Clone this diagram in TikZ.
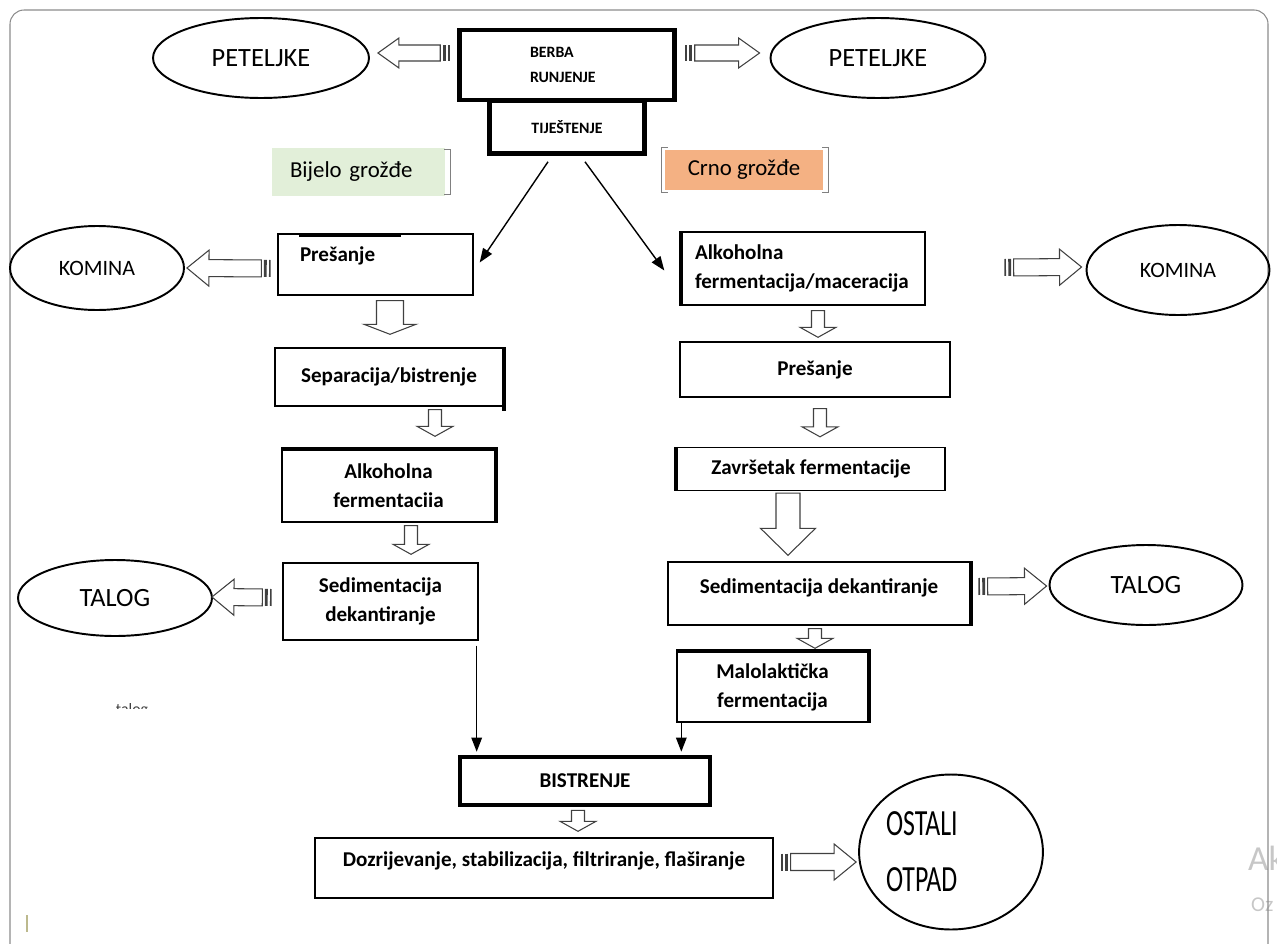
\documentclass[tikz,border=0pt]{standalone}
\usepackage{fontspec}
\setmainfont{Carlito}
\usetikzlibrary{calc,shapes.geometric,arrows.meta}
\def\hollowarrow[#1](#2)(#3)(#4:#5:#6){%
	\coordinate (arrA) at (#2);
	\coordinate (arrB) at (#3);
	\coordinate (arrH) at ($(arrB)!#6!(arrA)$);
	\draw[#1] ($(arrA)!#4!90:(arrB)$) -- ($(arrH)!#4!90:(arrB)$) -- ($(arrH)!#5!90:(arrB)$) -- (arrB)
		-- ($(arrH)!#5!-90:(arrB)$) -- ($(arrH)!#4!-90:(arrB)$) -- ($(arrA)!#4!-90:(arrB)$) -- cycle;}
\def\stripedarrow(#1)(#2)(#3:#4:#5){%
	\coordinate (strA) at (#1);
	\coordinate (strB) at (#2);
	\coordinate (strI) at ($(strA)!0.03cm!(strB)$);
	\coordinate (strII) at ($(strA)!0.12cm!(strB)$);
	\draw[stripe] ($(strI)!#3!90:(strB)$) -- ($(strI)!#3!-90:(strB)$);
	\draw[stripe, line width=1.6pt] ($(strII)!#3!90:(strB)$) -- ($(strII)!#3!-90:(strB)$);
	\hollowarrow[hollow]({$(strA)!0.2cm!(strB)$})(strB)(#3:#4:#5)}
\tikzset{
	procbox/.style={draw, rectangle, line width=0.8pt, inner sep=0pt, align=center, font=\bfseries\fontsize{12}{16.5}\selectfont},
	heavybox/.style={procbox, line width=2.6pt},
	waste/.style={draw, ellipse, line width=1.1pt, inner sep=0pt, align=center, font=\fontsize{12.5}{15}\selectfont},
	grape/.style={rectangle, inner sep=0pt, font=\fontsize{13}{15}\selectfont},
	hollow/.style={draw=black!75, line width=0.6pt, fill=white, line join=miter},
	stripe/.style={draw=black!75, line width=0.9pt},
	thinarrow/.style={-{Triangle[length=8pt,width=6pt]}, line width=0.8pt},
	heavyside/.style={line width=2.4pt},
	bracket/.style={draw=black!50, line width=0.8pt}
}
\definecolor{bijelofill}{HTML}{E2EFD9}
\definecolor{crnofill}{HTML}{F4B183}
\begin{document}
\begin{tikzpicture}[x=0.02cm, y=-0.02cm]
			\useasboundingbox (0,0) rectangle (1277,943);
			%%%%% FRAME %%%%%
			\node[text=black!22, font=\fontsize{20}{20}\selectfont, anchor=west] (wmA) at (1242,858) {Ak};
			\node[text=black!22, font=\fontsize{12}{12}\selectfont, anchor=west] (wmB) at (1245,905) {Oz};
			\draw[black!45, line width=0.6pt, rounded corners=8] (10,10) rectangle (1268,990);
			\draw[yellow!45!black!55, line width=1pt] (27,915) -- (27,932);
			
			%%%%% TOP %%%%%
			\node[heavybox, minimum width=3.1cm, minimum height=1.06cm, font=\bfseries\fontsize{9}{14}\selectfont] (tijest) at (567,127) {TIJEŠTENJE};
			\node[heavybox, minimum width=4.3cm, minimum height=1.4cm, text width=1.48cm, align=left, font=\bfseries\fontsize{9}{14}\selectfont] (berba) at (567,65) {BERBA\\RUNJENJE};
			
			\node[waste, minimum width=4.32cm, minimum height=1.6cm, font=\fontsize{15}{18}\selectfont] (petL) at (261,58) {PETELJKE};
			\node[waste, minimum width=4.3cm, minimum height=1.6cm, font=\fontsize{15}{18}\selectfont] (petR) at (878,58) {PETELJKE};
			
			\stripedarrow({$(berba.west)+(-7,-12)$})({$(petL.east)+(8,-5)$})(0.16cm:0.3cm:0.42cm)
			\stripedarrow({$(berba.east)+(8,-12)$})({$(petR.west)+(-10,-5)$})(0.16cm:0.3cm:0.42cm)
			
			\node[grape, fill=bijelofill, minimum width=3.46cm, minimum height=0.96cm, text width=2.74cm, align=left] (bijelo) at (358.5,172) {Bijelo grožđe};
			\draw[bracket] ($(bijelo.north east)+(-1,2)$) -- ++(6,0) |- ($(bijelo.south east)+(-1,-2)$);
			\node[grape, fill=crnofill, minimum width=3.16cm, minimum height=0.8cm] (crno) at (744,170) {Crno grožđe};
			\draw[bracket] ($(crno.north west)+(3,-2)$) -- ++(-6,0) |- ($(crno.south west)+(3,2)$);
			\draw[bracket] ($(crno.north east)+(-1,-2)$) -- ++(6,0) |- ($(crno.south east)+(-1,2)$);
			
			%%%%% LEFT (BIJELO) %%%%%
			\node[procbox, minimum width=3.9cm, minimum height=1.22cm, text width=3.02cm, align=left, text depth=0.4cm] (presL) at (375.5,264.5) {Prešanje};
			\draw[line width=1.3pt] ($(presL.north west)+(22,3)$) -- ++(102,0);
			\node[waste, minimum width=3.48cm, minimum height=1.68cm] (komL) at (97,268) {KOMINA};
			\stripedarrow({$(presL.west)+(-6,4)$})({$(komL.east)+(2,0)$})(0.17cm:0.36cm:0.44cm)
			
			\node[procbox, minimum width=4.56cm, minimum height=1.16cm] (sepL) at (389,377) {Separacija/bistrenje};
			\draw[heavyside] (sepL.north east) -- ($(sepL.south east)+(0,4)$);
			\hollowarrow[hollow]({$(presL.south)+(14.5,5)$})({$(sepL.north)+(1,-13)$})(0.27cm:0.52cm:0.2cm)
			
			\node[procbox, minimum width=4.26cm, minimum height=1.44cm] (alkL) at (388.5,486) {Alkoholna\\fermentaciia};
			\draw[heavyside] (alkL.north west) -- (alkL.north east) -- (alkL.south east);
			\hollowarrow[hollow]({$(sepL.south)+(46,3)$})({$(alkL.north)+(46.5,-13)$})(0.13cm:0.36cm:0.2cm)
			
			\node[procbox, minimum width=3.9cm, minimum height=1.54cm] (sedL) at (380.5,601.5) {Sedimentacija\\dekantiranje};
			\hollowarrow[hollow]({$(alkL.south)+(22.5,3)$})({$(sedL.north)+(30.5,-8)$})(0.13cm:0.36cm:0.2cm)
			\node[waste, minimum width=3.88cm, minimum height=1.52cm, font=\fontsize{15}{18}\selectfont] (talogL) at (115,598) {TALOG};
			\stripedarrow({$(sedL.west)+(-10,-4)$})({$(talogL.east)+(-1,-1)$})(0.17cm:0.36cm:0.44cm)
			
			\begin{scope}
				\clip (90,690) rectangle (180,708.5);
				\node[font=\fontsize{9}{9}\selectfont, text=black!75, anchor=base] (talogtxt) at (132,714) {talog};
			\end{scope}
			
			%%%%% RIGHT (CRNO) %%%%%
			\node[procbox, minimum width=4.86cm, minimum height=1.46cm, text width=4.34cm, align=left] (alkR) at (803.5,268.5) {Alkoholna\\fermentacija/maceracija};
			\draw[heavyside] (alkR.north west) -- (alkR.south west);
			\node[waste, minimum width=3.66cm, minimum height=1.8cm] (komR) at (1178,270) {KOMINA};
			\stripedarrow({$(alkR.east)+(78,-1)$})({$(komR.west)+(-4,-3)$})(0.17cm:0.36cm:0.44cm)
			
			\node[procbox, minimum width=5.4cm, minimum height=1.1cm] (presR) at (815,369.5) {Prešanje};
			\hollowarrow[hollow]({$(alkR.south)+(14.5,5)$})({$(presR.north)+(3,-4)$})(0.13cm:0.36cm:0.2cm)
			
			\node[procbox, minimum width=5.36cm, minimum height=0.86cm] (zavR) at (811,469) {Završetak fermentacije};
			\draw[heavyside] (zavR.north west) -- (zavR.south west);
			\hollowarrow[hollow]({$(presR.south)+(5,11)$})({$(zavR.north)+(9,-10)$})(0.13cm:0.36cm:0.2cm)
			
			\node[procbox, minimum width=6.04cm, minimum height=1.26cm, text depth=0.3cm] (sedR) at (819,593.5) {Sedimentacija dekantiranje};
			\draw[heavyside] (sedR.north east) -- (sedR.south east);
			\hollowarrow[hollow]({$(zavR.south)+(-23,2)$})({$(sedR.north)+(-31,-6)$})(0.24cm:0.55cm:0.54cm)
			\node[waste, minimum width=3.86cm, minimum height=1.6cm, font=\fontsize{15}{18}\selectfont] (talogR) at (1146,585) {TALOG};
			\stripedarrow({$(sedR.east)+(7,-7)$})({$(talogR.west)+(-2,1)$})(0.17cm:0.36cm:0.44cm)
			
			\node[procbox, minimum width=3.82cm, minimum height=1.4cm] (malo) at (772.5,687) {Malolaktička\\fermentacija};
			\draw[heavyside] (malo.north west) -- (malo.north east) -- (malo.south east);
			\hollowarrow[hollow]({$(sedR.south)+(-4,3)$})({$(malo.north)+(42.5,-3)$})(0.13cm:0.36cm:0.2cm)
			
			%%%%% BOTTOM %%%%%
			\node[heavybox, minimum width=5.0cm, minimum height=0.96cm] (bist) at (585,781) {BISTRENJE};
			\draw[thinarrow] ($(tijest.south)+(-19,6)$) -- ($(presL.east)+(6,-2)$);
			\draw[thinarrow] ($(tijest.south)+(18,6)$) -- ($(alkR.west)+(-17,2)$);
			\draw[thinarrow] ($(sedL.south east)+(-2,5)$) -- ($(sedL.south east |- bist.north)+(-2,-3)$);
			\draw[thinarrow] ($(malo.south west)+(5,0)$) -- ($(malo.south west |- bist.north)+(5,-3)$);
			
			\node[procbox, minimum width=9.16cm, minimum height=1.2cm, text depth=0.35cm] (dozr) at (544,868) {Dozrijevanje, stabilizacija, filtriranje, flaširanje};
			\hollowarrow[hollow]({$(bist.south)+(-7,3)$})({$(dozr.north)+(34,-6)$})(0.13cm:0.36cm:0.2cm)
			\node[waste, minimum width=3.66cm, minimum height=3.1cm, text width=2.6cm, align=left, font=\fontsize{21}{32}\selectfont] (ostali) at (951,852) {\scalebox{0.7}[1]{OSTALI}\\\scalebox{0.7}[1]{OTPAD}};
			\stripedarrow({$(dozr.east)+(7,-6)$})({$(ostali.west)+(-2,10)$})(0.17cm:0.36cm:0.44cm)
			
		\end{tikzpicture}
\end{document}
